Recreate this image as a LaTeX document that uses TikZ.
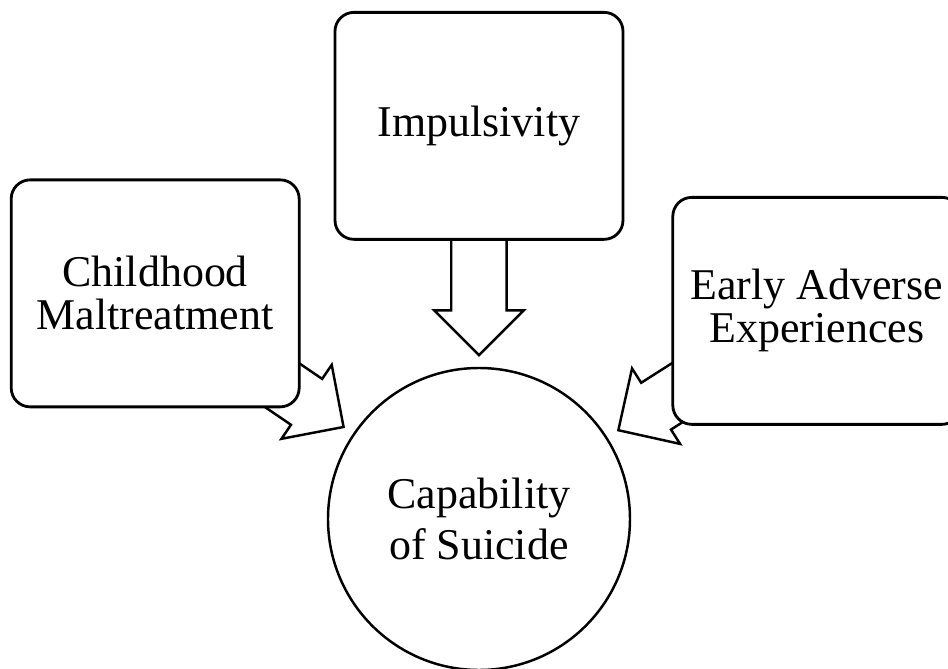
\documentclass[tikz,border=0pt]{standalone}
\usepackage{fontspec}
\setmainfont{Liberation Serif}
\usetikzlibrary{shapes,arrows,positioning,calc}

\begin{document}
\begin{tikzpicture}[node distance=2.52cm and 0.66cm,
box/.style={rectangle, rounded corners=0.38cm, draw, line width=1.6pt, fill=white, minimum width=5.76cm, minimum height=4.54cm, align=center, font=\fontsize{25}{24.5}\selectfont},
goal/.style={circle, draw, line width=1.4pt, minimum size=6.04cm, inner sep=0pt, align=center, font=\fontsize{25}{28.5}\selectfont},
fat/.style={single arrow, draw, fill=white, line width=1.4pt, inner xsep=0pt, inner ysep=0.53cm, single arrow head extend=0.34cm, minimum height=2.6cm, anchor=tip}] % box is the rounded rectangle, goal is the big circle, fat is the hollow block arrow (inner ysep gives the shaft width)

\clip (-9.58,-2.98) rectangle (9.38,10.38); % the picture is cut at the right and at the bottom

\node[goal](C){Capability\\of Suicide};% the circle in the middle, everything else is placed from here

% arrows come first so that the boxes cover their tails
\node[fat, rotate=-90](a1) at ([yshift=0.2cm]C.north){};
\node[fat, rotate=-34.2](a2) at ($(C.center)+(145.8:3.24cm)$){}; % from the left box, pointing at the centre
\node[fat, rotate=212.5](a3) at ($(C.center)+(32.5:3.27cm)$){}; % from the right box

\node[box](I)[above=of C]{Impulsivity};
\node[box](CM)[left=of I, yshift=-3.35cm]{Childhood\\Maltreatment};
\node[box](EA)[right=0.94cm of I, yshift=-3.70cm]{Early Adverse\\Experiences};

\end{tikzpicture}
\end{document}
